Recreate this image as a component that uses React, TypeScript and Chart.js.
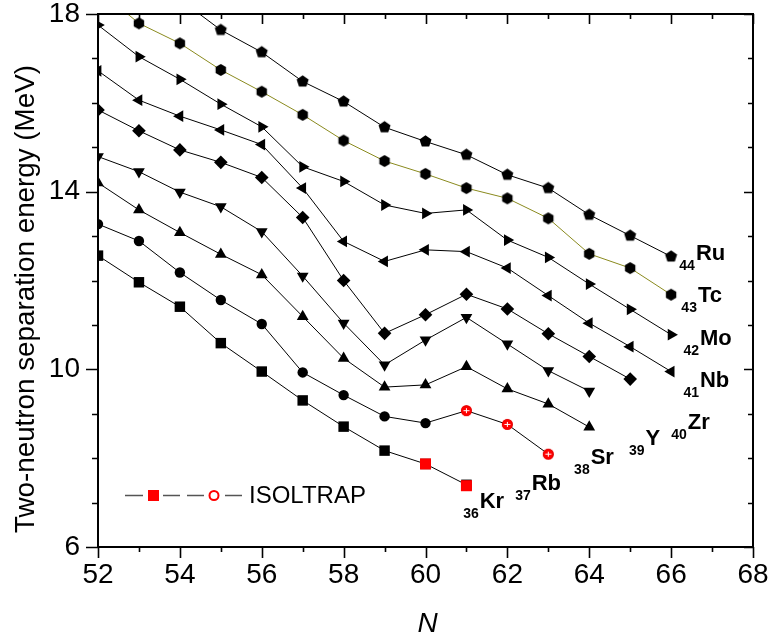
import React, { useEffect, useRef } from "react";
import { Chart, registerables } from "chart.js";

Chart.register(...registerables);

// ---- data (N = neutron number, S2n in MeV) ----
const N_KR = [52, 53, 54, 55, 56, 57, 58, 59, 60, 61];
const S2N_KR = [12.56, 11.96, 11.41, 10.59, 9.95, 9.30, 8.71, 8.17, 7.87, 7.40];
const N_RB = [52, 53, 54, 55, 56, 57, 58, 59, 60, 61, 62, 63];
const S2N_RB = [13.27, 12.89, 12.18, 11.56, 11.02, 9.93, 9.42, 8.94, 8.79, 9.07, 8.76, 8.09];
const N_SR = [52, 53, 54, 55, 56, 57, 58, 59, 60, 61, 62, 63, 64];
const S2N_SR = [14.20, 13.59, 13.08, 12.59, 12.13, 11.19, 10.25, 9.60, 9.65, 10.06, 9.56, 9.22, 8.70];
const N_Y = [52, 53, 54, 55, 56, 57, 58, 59, 60, 61, 62, 63, 64];
const S2N_Y = [14.79, 14.45, 13.99, 13.66, 13.10, 12.10, 11.04, 10.10, 10.66, 11.17, 10.57, 9.97, 9.51];
const N_ZR = [52, 53, 54, 55, 56, 57, 58, 59, 60, 61, 62, 63, 64, 65];
const S2N_ZR = [15.84, 15.37, 14.94, 14.66, 14.32, 13.42, 12.00, 10.81, 11.23, 11.69, 11.36, 10.80, 10.29, 9.78];
const N_NB = [52, 53, 54, 55, 56, 57, 58, 59, 60, 61, 62, 63, 64, 65, 66];
const S2N_NB = [16.72, 16.06, 15.70, 15.39, 15.06, 14.08, 12.88, 12.43, 12.69, 12.65, 12.28, 11.66, 11.04, 10.51, 9.95];
const N_MO = [52, 53, 54, 55, 56, 57, 58, 59, 60, 61, 62, 63, 64, 65, 66];
const S2N_MO = [17.75, 17.04, 16.53, 15.97, 15.46, 14.56, 14.23, 13.70, 13.51, 13.59, 12.91, 12.52, 11.92, 11.35, 10.78];
const N_TC = [52, 53, 54, 55, 56, 57, 58, 59, 60, 61, 62, 63, 64, 65, 66];
const S2N_TC = [18.55, 17.79, 17.34, 16.74, 16.25, 15.73, 15.15, 14.69, 14.40, 14.08, 13.85, 13.40, 12.60, 12.28, 11.68];
const N_RU = [54, 55, 56, 57, 58, 59, 60, 61, 62, 63, 64, 65, 66];
const S2N_RU = [18.33, 17.64, 17.14, 16.48, 16.03, 15.45, 15.13, 14.83, 14.38, 14.08, 13.48, 13.01, 12.54];

// ISOLTRAP measurements
const N_ISO_KR = [60, 61];
const S2N_ISO_KR = [7.87, 7.38];
const N_ISO_RB = [61, 62, 63];
const S2N_ISO_RB = [9.07, 8.76, 8.09];

// axis ticks
const X_MIN = 52, X_MAX = 68, X_STEP = 2;
const Y_MIN = 6, Y_MAX = 18, Y_STEP = 4;

// element labels: subscript (Z), symbol, anchor in data coordinates
const LABEL_Z = ["44", "43", "42", "41", "40", "39", "38", "37", "36"];
const LABEL_SYM = ["Ru", "Tc", "Mo", "Nb", "Zr", "Y", "Sr", "Rb", "Kr"];
const LABEL_N = [66.2, 66.25, 66.3, 66.3, 66.0, 64.97, 63.63, 62.19, 60.92];
const LABEL_E = [12.24, 11.29, 10.33, 9.38, 8.43, 8.07, 7.65, 7.06, 6.66];

const Y_TITLE = "Two-neutron separation energy (MeV)";
const X_TITLE = "N";
const LEGEND_TEXT = "ISOLTRAP";

const FONT = "'Liberation Sans', Arial, Helvetica, sans-serif";

const pts = (ns: number[], es: number[]) => ns.map((n, i) => ({ x: n, y: es[i] }));

function polyCanvas(sides: number, r: number, color: string) {
  const size = Math.ceil(r * 2 + 2);
  const c = document.createElement("canvas");
  c.width = size;
  c.height = size;
  const ctx = c.getContext("2d")!;
  ctx.fillStyle = color;
  ctx.beginPath();
  for (let i = 0; i < sides; i++) {
    const a = -Math.PI / 2 + (i * 2 * Math.PI) / sides;
    const x = size / 2 + r * Math.cos(a);
    const y = size / 2 + r * Math.sin(a);
    if (i === 0) ctx.moveTo(x, y);
    else ctx.lineTo(x, y);
  }
  ctx.closePath();
  ctx.fill();
  return c;
}

function redCircleCanvas() {
  const size = 13;
  const c = document.createElement("canvas");
  c.width = size;
  c.height = size;
  const ctx = c.getContext("2d")!;
  ctx.fillStyle = "#ff0000";
  ctx.beginPath();
  ctx.arc(size / 2, size / 2, 5.5, 0, Math.PI * 2);
  ctx.fill();
  ctx.strokeStyle = "#ffffff";
  ctx.lineWidth = 1;
  ctx.beginPath();
  ctx.moveTo(3.5, 6.5);
  ctx.lineTo(9.5, 6.5);
  ctx.moveTo(6.5, 4);
  ctx.lineTo(6.5, 9);
  ctx.stroke();
  return c;
}

const framePlugin = {
  id: "framePlugin",
  afterDraw(chart: any) {
    const { ctx, chartArea: a, scales } = chart;
    const xs = scales.x, ys = scales.y;
    ctx.save();
    ctx.strokeStyle = "#000";
    ctx.lineWidth = 2;
    ctx.strokeRect(a.left, a.top, a.right - a.left, a.bottom - a.top);
    ctx.lineWidth = 1.6;
    ctx.beginPath();
    for (let n = X_MIN; n <= X_MAX; n++) {
      const px = Math.round(xs.getPixelForValue(n)) + 0.5;
      const major = (n - X_MIN) % X_STEP === 0;
      ctx.moveTo(px, a.bottom);
      ctx.lineTo(px, a.bottom + (major ? 11 : 5));
      ctx.moveTo(px, a.top);
      ctx.lineTo(px, a.top + (major ? 10 : 5));
    }
    for (let v = Y_MIN; v <= Y_MAX; v++) {
      const py = Math.round(ys.getPixelForValue(v)) + 0.5;
      const major = (v - Y_MIN) % Y_STEP === 0;
      ctx.moveTo(a.left, py);
      ctx.lineTo(a.left - (major ? 12 : 6), py);
      ctx.moveTo(a.right, py);
      ctx.lineTo(a.right - (major ? 9 : 5), py);
    }
    ctx.stroke();

    // axis titles
    ctx.fillStyle = "#000";
    ctx.font = `28px ${FONT}`;
    ctx.textAlign = "center";
    ctx.textBaseline = "alphabetic";
    const tw = ctx.measureText(Y_TITLE).width;
    ctx.save();
    ctx.translate(34, 299);
    ctx.rotate(-Math.PI / 2);
    ctx.scale(468 / tw, 1);
    ctx.fillText(Y_TITLE, 0, 0);
    ctx.restore();
    ctx.font = `italic 28px ${FONT}`;
    ctx.fillText(X_TITLE, (a.left + a.right) / 2 + 2, 632);

    // element labels
    ctx.textAlign = "left";
    for (let i = 0; i < LABEL_Z.length; i++) {
      const x = xs.getPixelForValue(LABEL_N[i]);
      const y = ys.getPixelForValue(LABEL_E[i]);
      ctx.font = `bold 14px ${FONT}`;
      ctx.fillText(LABEL_Z[i], x, y);
      const w = ctx.measureText(LABEL_Z[i]).width;
      ctx.font = `bold 22px ${FONT}`;
      ctx.fillText(LABEL_SYM[i], x + w + 1, y - 10);
    }

    // legend
    const ly = 495.5;
    ctx.strokeStyle = "#555";
    ctx.lineWidth = 1.5;
    ctx.beginPath();
    [[125, 143], [163, 180], [187, 204], [225, 242]].forEach(([x0, x1]) => {
      ctx.moveTo(x0, ly);
      ctx.lineTo(x1, ly);
    });
    ctx.stroke();
    ctx.fillStyle = "#ff0000";
    ctx.fillRect(148, ly - 5.5, 11, 11);
    ctx.strokeStyle = "#ff0000";
    ctx.lineWidth = 2;
    ctx.beginPath();
    ctx.arc(214, ly, 4.5, 0, Math.PI * 2);
    ctx.stroke();
    ctx.fillStyle = "#000";
    ctx.font = `24px ${FONT}`;
    ctx.fillText(LEGEND_TEXT, 249, 503);
    ctx.restore();
  },
};

const zeroPad = (s: any) => {
  s.paddingTop = 0;
  s.paddingBottom = 0;
  s.paddingLeft = 0;
  s.paddingRight = 0;
};

export default function App() {
  const ref = useRef<HTMLCanvasElement | null>(null);
  useEffect(() => {
    if (!ref.current) return;
    const pent = polyCanvas(5, 6.3, "#000");
    const hex = polyCanvas(6, 6.0, "#000");
    const redCirc = redCircleCanvas();
    const series = (data: any, style: any, radius: number, rotation = 0, color = "#000") => ({
      data,
      showLine: true,
      borderColor: color,
      borderWidth: 1,
      pointStyle: style,
      pointRadius: radius,
      pointRotation: rotation,
      pointBackgroundColor: "#000",
      pointBorderColor: "#000",
      pointBorderWidth: 0,
      pointHoverRadius: radius,
    });
    const chart = new Chart(ref.current, {
      type: "scatter",
      data: {
        datasets: [
          {
            data: pts(N_ISO_KR, S2N_ISO_KR),
            showLine: false,
            pointStyle: "rect",
            pointRadius: 7.8,
            pointBackgroundColor: "#ff0000",
            pointBorderWidth: 0,
          },
          {
            data: pts(N_ISO_RB, S2N_ISO_RB),
            showLine: false,
            pointStyle: redCirc,
            pointRadius: 6,
          },
          series(pts(N_KR, S2N_KR), "rect", 7.4),
          series(pts(N_RB, S2N_RB), "circle", 5.2),
          series(pts(N_SR, S2N_SR), "triangle", 6.8),
          series(pts(N_Y, S2N_Y), "triangle", 6.8, 180),
          series(pts(N_ZR, S2N_ZR), "rectRot", 6.8),
          series(pts(N_NB, S2N_NB), "triangle", 6.8, 270),
          series(pts(N_MO, S2N_MO), "triangle", 6.8, 90),
          series(pts(N_TC, S2N_TC), hex, 6, 0, "#8a8a1e"),
          series(pts(N_RU, S2N_RU), pent, 6),
        ] as any,
      },
      options: {
        animation: false,
        responsive: true,
        maintainAspectRatio: false,
        layout: { padding: { left: 0, top: 14, right: 18, bottom: 0 } },
        plugins: { legend: { display: false }, tooltip: { enabled: false } },
        scales: {
          x: {
            type: "linear",
            min: X_MIN,
            max: X_MAX,
            grid: { display: false, drawTicks: false },
            border: { display: false },
            ticks: {
              stepSize: X_STEP,
              color: "#000",
              padding: 11,
              maxRotation: 0,
              font: { family: FONT, size: 28, lineHeight: 1.2 },
            },
            afterFit: (s: any) => {
              s.height = 94;
              zeroPad(s);
            },
          },
          y: {
            type: "linear",
            min: Y_MIN,
            max: Y_MAX,
            grid: { display: false, drawTicks: false },
            border: { display: false },
            ticks: {
              stepSize: Y_STEP,
              color: "#000",
              padding: 18,
              font: { family: FONT, size: 28, lineHeight: 1 },
            },
            afterFit: (s: any) => {
              s.width = 98;
              zeroPad(s);
            },
          },
        },
      },
      plugins: [framePlugin],
    });
    return () => chart.destroy();
  }, []);
  return (
    <div style={{ position: "fixed", left: 0, top: 0, width: 771, height: 641, background: "#fff" }}>
      <canvas ref={ref} />
    </div>
  );
}
